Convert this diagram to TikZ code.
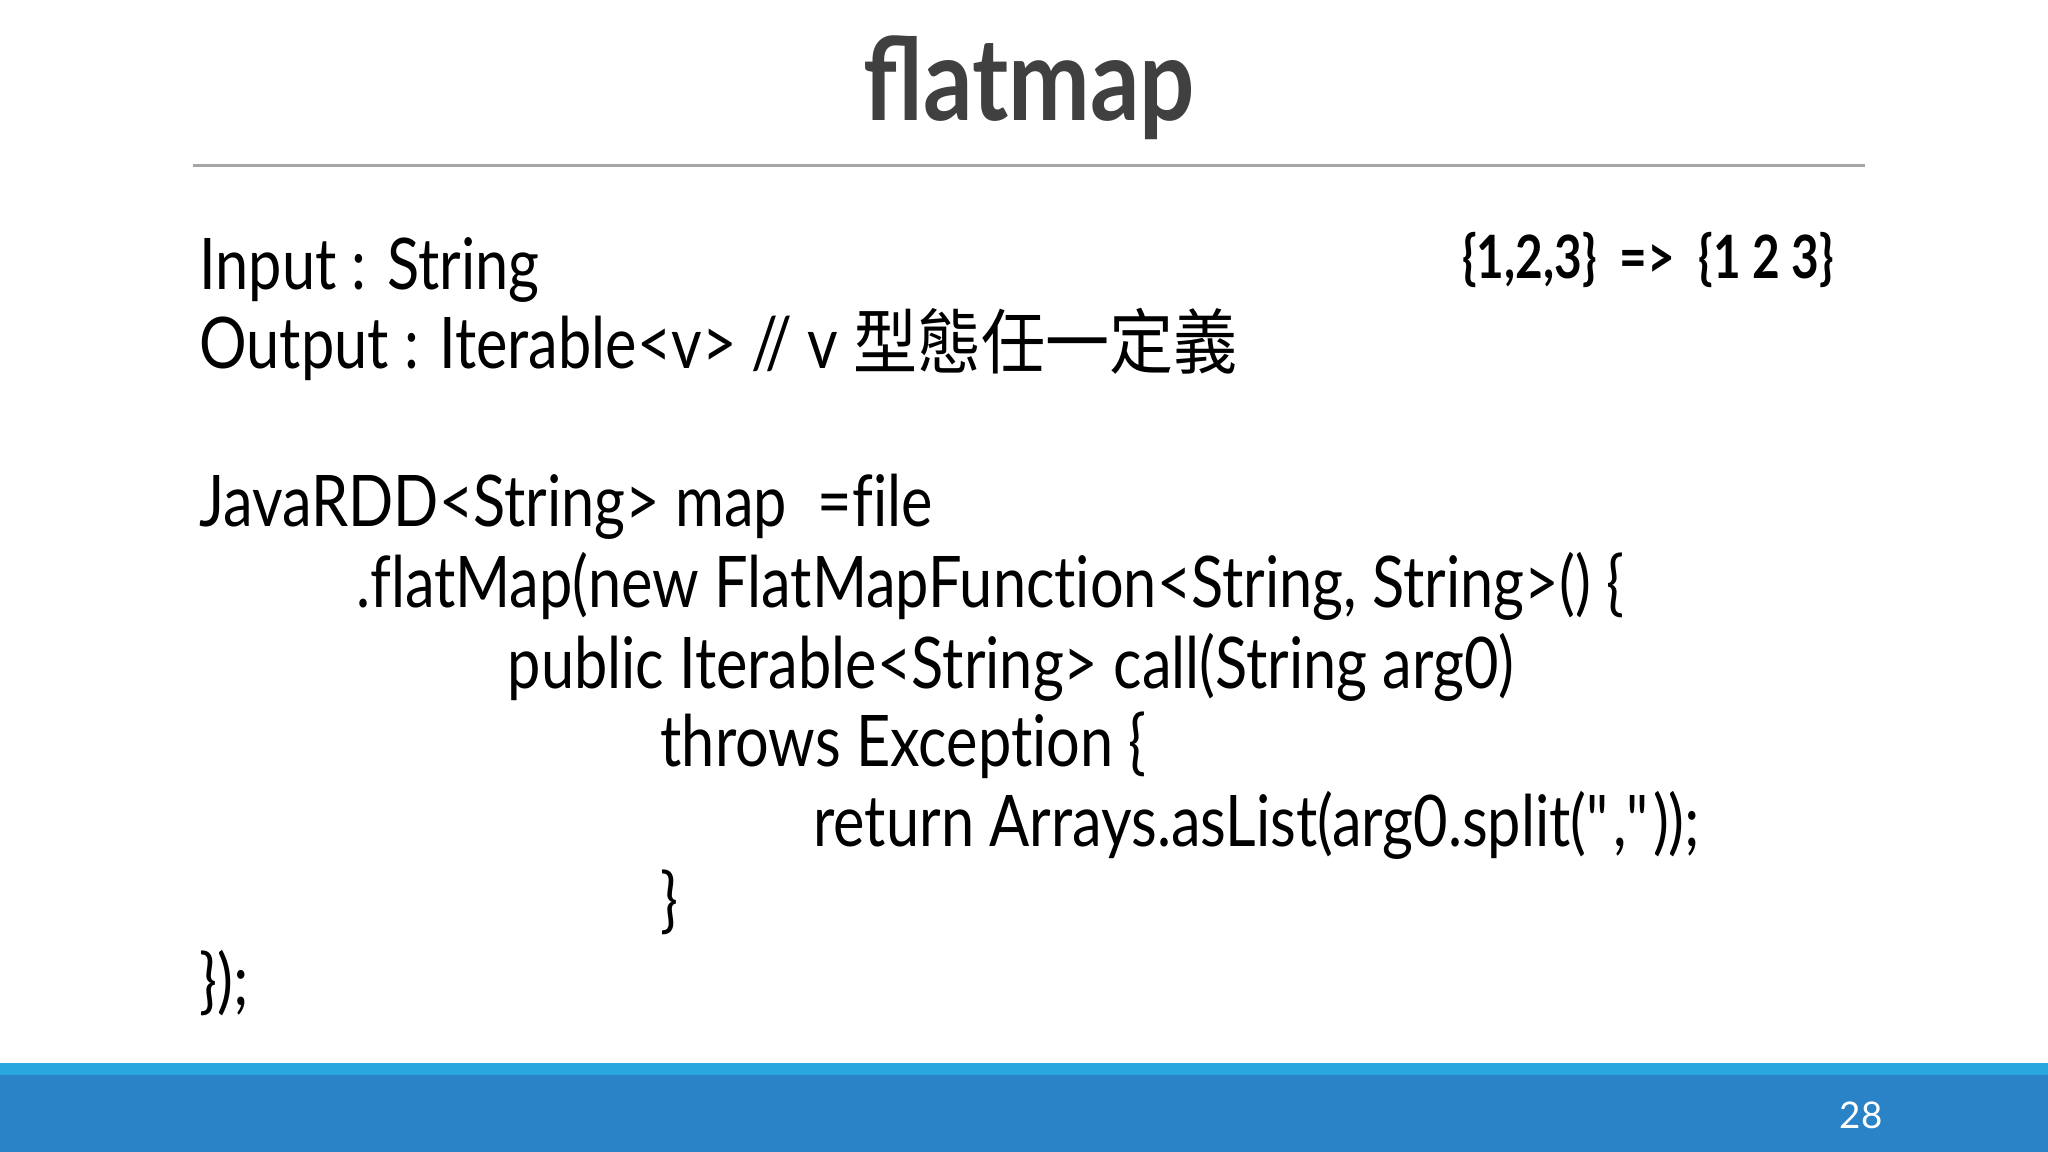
\documentclass[tikz,border=0pt]{standalone}
\usepackage{fontspec}
\setmainfont{Lato}[Ligatures={NoCommon}]
\newfontfamily\bodyfont{Lato}[FakeStretch=0.835,Ligatures={NoCommon}]
\newfontfamily\titlefont{Lato}[FakeStretch=0.85,BoldFont=Lato Bold]
\newfontfamily\exfont{Lato Bold}[FakeStretch=0.8]
\newfontfamily\cjk{Noto Sans CJK TC}[FakeStretch=0.9]
\definecolor{titlegray}{HTML}{404040}
\definecolor{lightblue}{HTML}{29A8E0}
\definecolor{darkblue}{HTML}{2A82C7}
\tikzset{
  body/.style={anchor=base west, inner sep=0pt, font=\bodyfont\fontsize{15.5}{18}\selectfont, text=black},
}
\begin{document}
\begin{tikzpicture}[x=0.01cm,y=-0.01cm]
\useasboundingbox (0,0) rectangle (1568,882);
\fill[white] (0,0) rectangle (1568,882);
\node[anchor=base, inner sep=0pt, font=\titlefont\fontsize{25}{30}\selectfont\bfseries, text=titlegray] (title) at (788,92) {flatmap};
\draw[gray!70, line width=0.6pt] (148,127) -- (1428,127);
\node[body] (l1) at (152,222) {Input : String};
\node[body] (l2) at (152,282) {Output : Iterable<v> // v {\cjk 型態任一定義}};
\node[anchor=base east, inner sep=0pt, font=\exfont\fontsize{13}{15}\selectfont] (ex) at (1405,213) {\{1,2,3\}\ \ =>\ \ \{1 2 3\}};
\node[body] (l3) at (152,403) {JavaRDD<String> map\ \ =file};
\node[body] (l4) at (272,465) {.flatMap(new FlatMapFunction<String, String>() \{};
\node[body] (l5) at (388,527) {public Iterable<String> call(String arg0)};
\node[body] (l6) at (505,587) {throws Exception \{};
\node[body] (l7) at (622,648) {return Arrays.asList(arg0.split(\textquotedbl,\textquotedbl));};
\node[body] (l8) at (505,708) {\}};
\node[body] (l9) at (152,770) {\});};
\fill[lightblue] (0,814) rectangle (1568,823);
\fill[darkblue] (0,823) rectangle (1568,882);
\node[anchor=center, inner sep=0pt, font=\fontsize{8}{10}\selectfont, text=white] (pg) at (1425,854) {28};
\end{tikzpicture}
\end{document}
